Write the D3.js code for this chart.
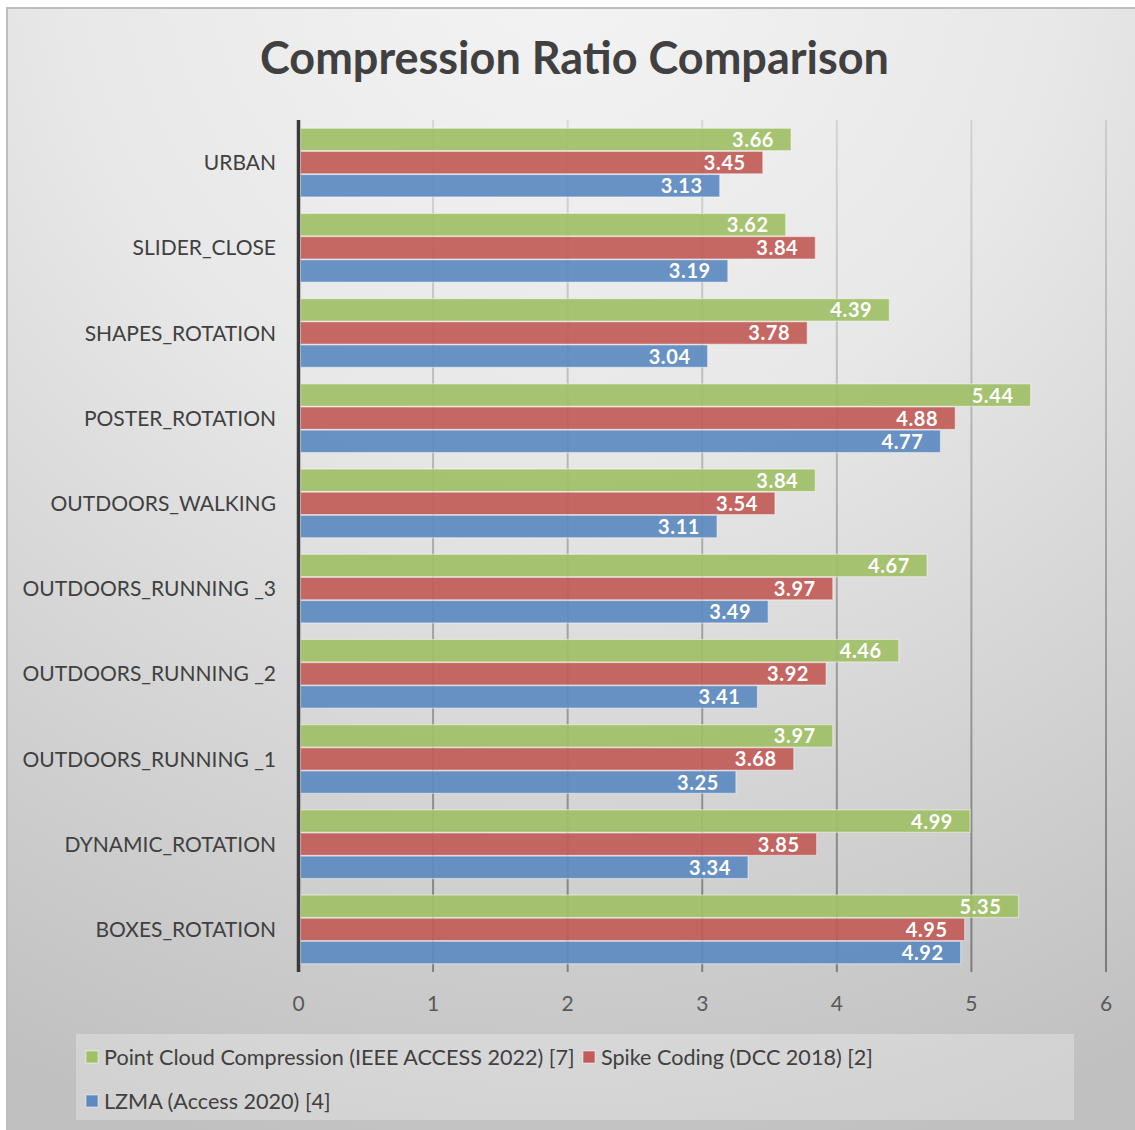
<!DOCTYPE html>
<html><head><meta charset="utf-8">
<script src="https://cdn.jsdelivr.net/npm/d3@7"></script>
<style>html,body{margin:0;padding:0;background:#fff;}svg{display:block;}</style>
</head><body>
<svg id="chart" width="1135" height="1130"></svg>
<script>
const categories = ["URBAN","SLIDER_CLOSE","SHAPES_ROTATION","POSTER_ROTATION","OUTDOORS_WALKING","OUTDOORS_RUNNING _3","OUTDOORS_RUNNING _2","OUTDOORS_RUNNING _1","DYNAMIC_ROTATION","BOXES_ROTATION"];
const seriesNames = ["Point Cloud Compression (IEEE ACCESS 2022) [7]","Spike Coding (DCC 2018) [2]","LZMA (Access 2020) [4]"];
const pointCloud = [3.66,3.62,4.39,5.44,3.84,4.67,4.46,3.97,4.99,5.35];
const spikeCoding = [3.45,3.84,3.78,4.88,3.54,3.97,3.92,3.68,3.85,4.95];
const lzma = [3.13,3.19,3.04,4.77,3.11,3.49,3.41,3.25,3.34,4.92];
const xTicks = [0,1,2,3,4,5,6];
const colors = ["#a0bf67","#c25c58","#5e8ac1"];
const title = "Compression Ratio Comparison";

const seriesValues = [pointCloud, spikeCoding, lzma];
const FONT = "Lato, 'Open Sans', sans-serif";
const svg = d3.select("#chart");
const W = 1135, H = 1130;

const defs = svg.append("defs");
const bg = defs.append("radialGradient").attr("id","bg")
  .attr("gradientUnits","userSpaceOnUse").attr("cx",560).attr("cy",-60).attr("r",1250);
bg.append("stop").attr("offset","0%").attr("stop-color","#f4f4f4");
bg.append("stop").attr("offset","40%").attr("stop-color","#e8e8e8");
bg.append("stop").attr("offset","100%").attr("stop-color","#c0c0c0");
const gg = defs.append("linearGradient").attr("id","gridg")
  .attr("gradientUnits","userSpaceOnUse").attr("x1",0).attr("y1",120).attr("x2",0).attr("y2",972);
gg.append("stop").attr("offset","0%").attr("stop-color","#000").attr("stop-opacity",0.1);
gg.append("stop").attr("offset","100%").attr("stop-color","#000").attr("stop-opacity",0.38);

svg.append("rect").attr("x",0).attr("y",0).attr("width",W).attr("height",H).attr("fill","#fff");
svg.append("rect").attr("x",7).attr("y",8).attr("width",W+10).attr("height",H+10)
  .attr("fill","url(#bg)").attr("stroke","#bdbdbd").attr("stroke-width",2);

svg.append("text").attr("x",574.5).attr("y",74).attr("text-anchor","middle")
  .attr("font-family",FONT).attr("font-weight","bold").attr("font-size",45)
  .attr("fill","#404040").text(title);

const x = d3.scaleLinear().domain([0,6]).range([298.5,1106]);
const y = d3.scaleBand().domain(categories).range([120,972]).paddingInner(0.194).paddingOuter(0.097);
const ys = d3.scaleBand().domain(d3.range(3)).range([0,y.bandwidth()]).paddingInner(0.03);

// gridlines (under bars)
svg.append("g").selectAll("line").data(xTicks.filter(t=>t>0)).join("line")
  .attr("x1",d=>x(d)).attr("x2",d=>x(d)).attr("y1",120).attr("y2",972)
  .attr("stroke","url(#gridg)").attr("stroke-width",2);

// bars
const groups = svg.append("g").selectAll("g").data(categories).join("g")
  .attr("transform", c => `translate(0,${y(c)})`);
groups.each(function(c,i){
  const g = d3.select(this);
  seriesValues.forEach((vals,s)=>{
    g.append("rect").attr("x",x(0)+2).attr("y",ys(s)).attr("width",x(vals[i])-x(0)-2)
      .attr("height",ys.bandwidth()).attr("fill",colors[s]).attr("fill-opacity",0.93)
      .attr("stroke","rgba(255,255,255,0.45)").attr("stroke-width",1.2);
  });
});

// axis line
svg.append("line").attr("x1",x(0)).attr("x2",x(0)).attr("y1",120).attr("y2",972)
  .attr("stroke","#3a3a3a").attr("stroke-width",3.5);

// data labels
groups.each(function(c,i){
  const g = d3.select(this);
  seriesValues.forEach((vals,s)=>{
    g.append("text").attr("x",x(vals[i])-17).attr("y",ys(s)+ys.bandwidth()/2+7.5)
      .attr("text-anchor","end").attr("font-family",FONT).attr("font-weight","bold")
      .attr("font-size",20).attr("letter-spacing",0.6).attr("fill","#fff").text(vals[i].toFixed(2));
  });
});

// category labels
svg.append("g").selectAll("text").data(categories).join("text")
  .attr("x",276).attr("y",c=>y(c)+y.bandwidth()/2+7.5).attr("text-anchor","end")
  .attr("font-family",FONT).attr("font-size",21).attr("fill","#404040").text(c=>c);

// x tick labels
svg.append("g").selectAll("text").data(xTicks).join("text")
  .attr("x",d=>x(d)).attr("y",1011).attr("text-anchor","middle")
  .attr("font-family",FONT).attr("font-size",21).attr("fill","#595959").text(d=>d);

// legend
svg.append("rect").attr("x",76).attr("y",1034).attr("width",998).attr("height",86)
  .attr("fill","rgba(255,255,255,0.28)");
const legendPos = [[86,1057],[583,1057],[86,1101]];
seriesNames.forEach((n,s)=>{
  const [lx,ly] = legendPos[s];
  svg.append("rect").attr("x",lx).attr("y",ly-6).attr("width",12).attr("height",12)
    .attr("fill",colors[s]).attr("stroke","rgba(255,255,255,0.5)").attr("stroke-width",1);
  svg.append("text").attr("x",lx+18).attr("y",ly+7.5).attr("font-family",FONT)
    .attr("font-size",21.6).attr("fill","#404040").text(n);
});
</script>
</body></html>
